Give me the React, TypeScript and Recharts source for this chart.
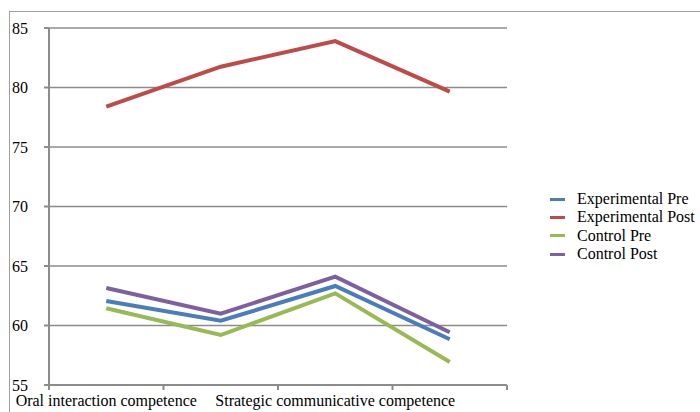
import { LineChart, Line, CartesianGrid, XAxis, YAxis } from "recharts";

const categories = [
  "Oral interaction competence",
  "Oral production competence",
  "Strategic communicative competence",
  "Overall oral competence",
];
const experimentalPre = [62.06, 60.4, 63.32, 58.84];
const experimentalPost = [78.4, 81.75, 83.9, 79.65];
const controlPre = [61.45, 59.2, 62.7, 56.93];
const controlPost = [63.15, 61.0, 64.1, 59.43];
const yTicks = [55, 60, 65, 70, 75, 80, 85];

const SERIES = [
  { key: "expPre", name: "Experimental Pre", color: "#4a7ebb", values: experimentalPre },
  { key: "expPost", name: "Experimental Post", color: "#be4b48", values: experimentalPost },
  { key: "ctrlPre", name: "Control Pre", color: "#98b954", values: controlPre },
  { key: "ctrlPost", name: "Control Post", color: "#7d60a0", values: controlPost },
];

const FONT = "Liberation Serif";
const AXIS = "#8c8c8c";
const W = 700;
const H = 412;
const M = { top: 28, right: 193, bottom: 0, left: 0 };
const Y_W = 49;
const X_H = 27;
const HALF_BAND = (W - M.left - M.right - Y_W) / categories.length / 2;

const data = categories.map((c, i) => {
  const row: Record<string, string | number> = { cat: c };
  SERIES.forEach((s) => (row[s.key] = s.values[i]));
  return row;
});

// category ticks sit on band edges, labels only every other one (like Excel)
function CatTick(props: any) {
  const { x, y, payload, index } = props;
  const last = index === categories.length - 1;
  return (
    <g>
      <line x1={x - HALF_BAND} x2={x - HALF_BAND} y1={y} y2={y + 5} stroke={AXIS} strokeWidth={2} />
      {last && <line x1={x + HALF_BAND} x2={x + HALF_BAND} y1={y} y2={y + 5} stroke={AXIS} strokeWidth={2} />}
      {index % 2 === 0 && (
        <text x={x} y={y + 21} textAnchor="middle" fontFamily={FONT} fontSize={16} fill="#000">
          {payload.value}
        </text>
      )}
    </g>
  );
}

export default function App() {
  return (
    <div style={{ position: "absolute", left: 0, top: 0, width: W, height: H, background: "#fff", overflow: "hidden" }}>
      <div
        style={{
          position: "absolute",
          left: 9,
          top: 11,
          width: 720,
          height: 430,
          borderLeft: "1px solid #a0a0a0",
          borderTop: "1px solid #a0a0a0",
        }}
      />
      <div style={{ position: "absolute", left: 0, top: 0 }}>
        <LineChart width={W} height={H} data={data} margin={M}>
          <CartesianGrid vertical={false} stroke={AXIS} strokeWidth={1.5} />
          <XAxis
            dataKey="cat"
            scale="band"
            interval={0}
            height={X_H}
            tickSize={0}
            tickMargin={0}
            tickLine={false}
            axisLine={{ stroke: AXIS, strokeWidth: 2 }}
            tick={<CatTick />}
          />
          <YAxis
            domain={[55, 85]}
            ticks={yTicks}
            width={Y_W}
            tickSize={5}
            tickMargin={16}
            interval={0}
            axisLine={{ stroke: AXIS, strokeWidth: 2 }}
            tickLine={{ stroke: AXIS, strokeWidth: 2 }}
            tick={{ fontFamily: FONT, fontSize: 16, fill: "#000" }}
          />
          {SERIES.map((s) => (
            <Line
              key={s.key}
              dataKey={s.key}
              name={s.name}
              type="linear"
              stroke={s.color}
              strokeWidth={4}
              dot={false}
              isAnimationActive={false}
            />
          ))}
        </LineChart>
      </div>
      <div
        style={{
          position: "absolute",
          left: 550,
          top: 190,
          fontFamily: FONT,
          fontSize: 16,
          lineHeight: "18.3px",
          color: "#000",
        }}
      >
        {SERIES.map((s) => (
          <div key={s.key} style={{ display: "flex", alignItems: "center", whiteSpace: "nowrap" }}>
            <span style={{ display: "inline-block", width: 15, height: 3, background: s.color, marginRight: 12 }} />
            {s.name}
          </div>
        ))}
      </div>
    </div>
  );
}
